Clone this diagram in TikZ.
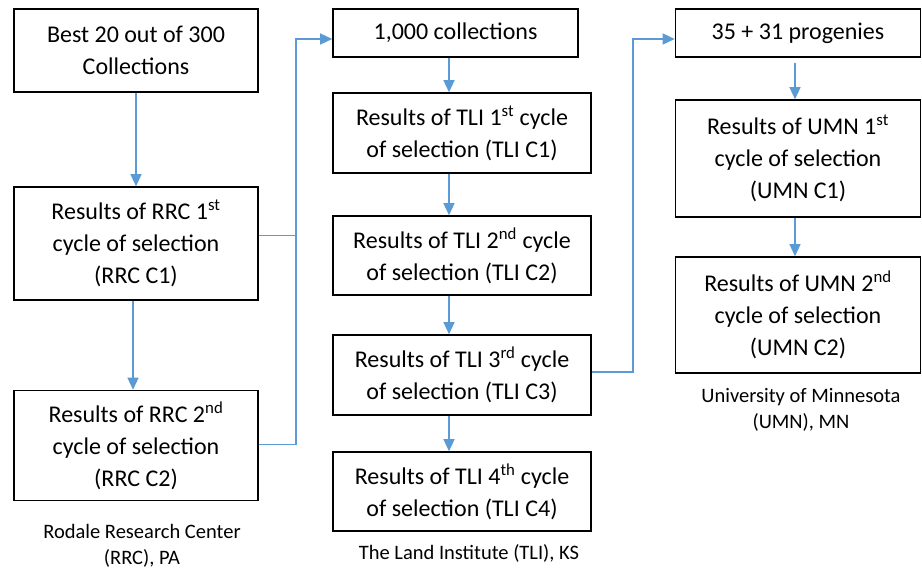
\documentclass[tikz,border=0pt]{standalone}
\usepackage{fontspec}
\setmainfont{Carlito}
\usetikzlibrary{arrows.meta,positioning}
\definecolor{linkblue}{RGB}{91,155,213}

\begin{document}
\begin{tikzpicture}[
        x=1pt, y=-1pt,
        block/.style={draw, line width=1.6pt, inner sep=0pt, align=center, minimum width=#1, font=\fontsize{24}{32}\selectfont},
        place/.style={align=center, inner sep=0pt, font=\fontsize{20.5}{25.5}\selectfont},
        link/.style={draw=linkblue, line width=1.3pt},
        arrow/.style={link, -{Triangle[length=12pt, width=11pt]}}
    ]
        \useasboundingbox (0,0) rectangle (922,571);

        % Rodale Research Center
        \node[block=244pt, minimum height=83pt] (best) at (136,50.5) {Best 20 out of 300\\Collections};
        \node[block=244pt, minimum height=113pt] (rrc1) at (136,243.5) {Results of RRC 1\textsuperscript{st}\\cycle of selection\\(RRC C1)};
        \node[block=244pt, minimum height=110pt] (rrc2) at (136,445.5) {Results of RRC 2\textsuperscript{nd}\\cycle of selection\\(RRC C2)};
        \node[place] (rrc) at (142,546) {Rodale Research Center\\(RRC), PA};

        % The Land Institute
        \node[block=245pt, minimum height=48pt] (tli0) at (455.5,33) {1,000 collections};
        \node[block=258pt, minimum height=80pt] (tli1) at (462,133) {Results of TLI 1\textsuperscript{st} cycle\\of selection (TLI C1)};
        \node[block=258pt, minimum height=79pt] (tli2) at (462,255.5) {Results of TLI 2\textsuperscript{nd} cycle\\of selection (TLI C2)};
        \node[block=258pt, minimum height=80pt] (tli3) at (462,375) {Results of TLI 3\textsuperscript{rd} cycle\\of selection (TLI C3)};
        \node[block=258pt, minimum height=79pt] (tli4) at (462,491.5) {Results of TLI 4\textsuperscript{th} cycle\\of selection (TLI C4)};
        \node[place] (tli) at (469,553) {The Land Institute (TLI), KS};

        % University of Minnesota
        \node[block=245pt, minimum height=48pt] (umn0) at (798,33) {35 + 31 progenies};
        \node[block=245pt, minimum height=117pt] (umn1) at (798,158.5) {Results of UMN 1\textsuperscript{st}\\cycle of selection\\(UMN C1)};
        \node[block=245pt, minimum height=116pt] (umn2) at (798,315) {Results of UMN 2\textsuperscript{nd}\\cycle of selection\\(UMN C2)};
        \node[place] (umn) at (801,410) {University of Minnesota\\(UMN), MN};

        % Arrows within columns
        \draw[arrow] (best) -- (rrc1);
        \draw[arrow] (rrc1.south -| 133,0) -- (rrc2.north -| 133,0);
        \draw[arrow] (tli0.south -| 449,0) -- (tli1.north -| 449,0);
        \foreach \a/\b in {tli1/tli2, tli2/tli3, tli3/tli4}
            \draw[arrow] (\a.south -| 449,0) -- (\b.north -| 449,0);
        \draw[arrow] ([yshift=-5pt]umn0.south -| 795,0) -- (umn1.north -| 795,0);
        \draw[arrow] (umn1.south -| 795,0) -- (umn2.north -| 795,0);

        % Links between sites
        \coordinate (jl) at (296,39);
        \coordinate (jr) at (633,39);
        \draw[link] ([yshift=8pt]rrc1.east) -- ([yshift=8pt]rrc1.east -| jl);
        \draw[arrow] ([yshift=1pt]rrc2.east) -| (jl) -- (jl -| tli0.west);
        \draw[arrow] ([yshift=3pt]tli3.east) -| (jr) -- (jr -| umn0.west);

    \end{tikzpicture}
\end{document}
